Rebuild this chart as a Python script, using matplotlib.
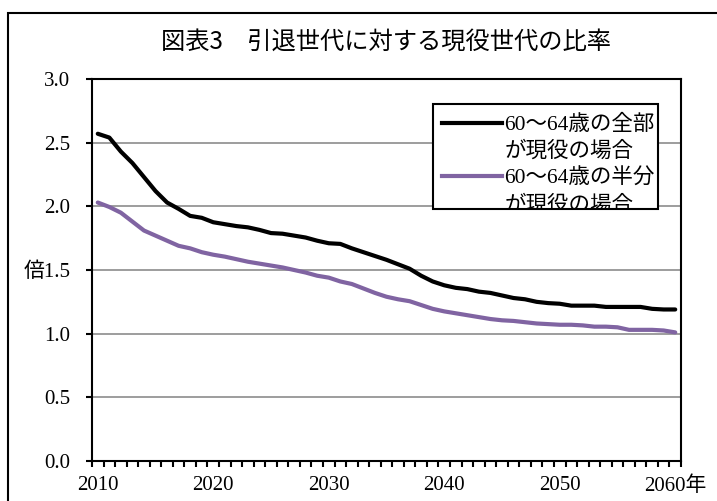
import matplotlib
matplotlib.use("Agg")
import matplotlib.pyplot as plt
from matplotlib.lines import Line2D
from matplotlib.patches import Rectangle
from matplotlib.transforms import Bbox, TransformedBbox

# Ratio of working generation to retired generation, 2010-2060
years = list(range(2010, 2061))
all_working = [2.57, 2.54, 2.43, 2.34, 2.23, 2.12, 2.03, 1.98, 1.925, 1.91,
               1.875, 1.86, 1.845, 1.835, 1.815, 1.79, 1.785, 1.77, 1.755, 1.73,
               1.71, 1.705, 1.67, 1.64, 1.61, 1.58, 1.545, 1.51, 1.455, 1.41,
               1.38, 1.36, 1.35, 1.33, 1.32, 1.30, 1.28, 1.27, 1.25, 1.24,
               1.235, 1.22, 1.22, 1.22, 1.21, 1.21, 1.21, 1.21, 1.195, 1.19, 1.19]
half_working = [2.03, 1.995, 1.95, 1.88, 1.81, 1.77, 1.73, 1.69, 1.67, 1.64,
                1.62, 1.605, 1.585, 1.565, 1.55, 1.535, 1.52, 1.50, 1.48, 1.455,
                1.44, 1.41, 1.39, 1.355, 1.32, 1.29, 1.27, 1.255, 1.225, 1.195,
                1.175, 1.16, 1.145, 1.13, 1.115, 1.105, 1.10, 1.09, 1.08, 1.075,
                1.07, 1.07, 1.065, 1.055, 1.055, 1.05, 1.03, 1.03, 1.03, 1.025, 1.01]

series_labels = [["60～64歳の全部", "が現役の場合"],
                 ["60～64歳の半分", "が現役の場合"]]
title = "図表3　引退世代に対する現役世代の比率"
x_tick_years = [2010, 2020, 2030, 2040, 2050, 2060]
x_tick_labels = ["2010", "2020", "2030", "2040", "2050", "2060年"]
y_ticks = [0.0, 0.5, 1.0, 1.5, 2.0, 2.5, 3.0]
y_tick_labels = ["0.0", "0.5", "1.0", "倍1.5", "2.0", "2.5", "3.0"]

BLACK = "#000000"
PURPLE = "#8064A2"

plt.rcParams["font.family"] = ["Liberation Serif", "Noto Sans CJK JP", "DejaVu Sans"]

fig = plt.figure(figsize=(7.17, 5.01), dpi=100)
ax = fig.add_axes([92 / 717, 40 / 501, 589 / 717, 382 / 501])

idx = list(range(len(years)))
ax.plot(idx, all_working, color=BLACK, lw=3.0, solid_capstyle="round",
        solid_joinstyle="round", zorder=3)
ax.plot(idx, half_working, color=PURPLE, lw=3.0, solid_capstyle="round",
        solid_joinstyle="round", zorder=3)

ax.set_xlim(-0.5, len(years) - 0.5)
ax.set_ylim(0, 3.0)

# category axis: labels on categories, tick marks between them
ax.set_xticks([years.index(y) for y in x_tick_years])
ax.set_xticklabels(x_tick_labels, fontsize=15)
ax.set_xticks([i - 0.5 for i in range(len(years) + 1)], minor=True)
ax.tick_params(axis="x", which="major", length=0, pad=11)
ax.tick_params(axis="x", which="minor", length=4, width=1.5, direction="out")

ax.set_yticks(y_ticks)
ax.set_yticklabels(y_tick_labels, fontsize=15)
ax.tick_params(axis="y", which="major", length=4.5, width=1.5, direction="out", pad=11)

ax.yaxis.grid(True, color="#8c8c8c", lw=1.2)
ax.set_axisbelow(True)
for s in ax.spines.values():
    s.set_linewidth(1.5)
    s.set_color(BLACK)

# legend box
lx0, ly0, lw_, lh_ = 0.579, 0.6597, 0.382, 0.275
box = Rectangle((lx0, ly0), lw_, lh_, transform=ax.transAxes, facecolor="white",
                edgecolor=BLACK, lw=1.5, zorder=4)
ax.add_patch(box)

blank = Line2D([], [], color="none")
handles = [Line2D([], [], color=BLACK, lw=3.0), blank,
           Line2D([], [], color=PURPLE, lw=3.0), blank]
labels = [series_labels[0][0], series_labels[0][1],
          series_labels[1][0], series_labels[1][1]]
leg = ax.legend(handles, labels, loc="upper left", bbox_to_anchor=(0.594, 0.906),
                frameon=False, handlelength=2.8, handletextpad=0.1,
                labelspacing=0.3, borderpad=0, borderaxespad=0, fontsize=15.5)
leg.set_zorder(5)
clip = TransformedBbox(Bbox.from_bounds(lx0, ly0, lw_, lh_), ax.transAxes)
for t in leg.get_texts():
    t.set_clip_box(clip)
    t.set_clip_on(True)

fig.text(386 / 717, 1 - 42 / 501, title, ha="center", va="center", fontsize=17.5,
         family=["Noto Sans CJK JP", "DejaVu Sans"])

# outer frame, running off the right and bottom edges
top = 1 - 12.5 / 501
fig.add_artist(Rectangle((8 / 717, -0.2), 1.2, top + 0.2,
                         transform=fig.transFigure, fill=False, lw=1.5,
                         edgecolor=BLACK))

fig.savefig("out.png", dpi=100)
